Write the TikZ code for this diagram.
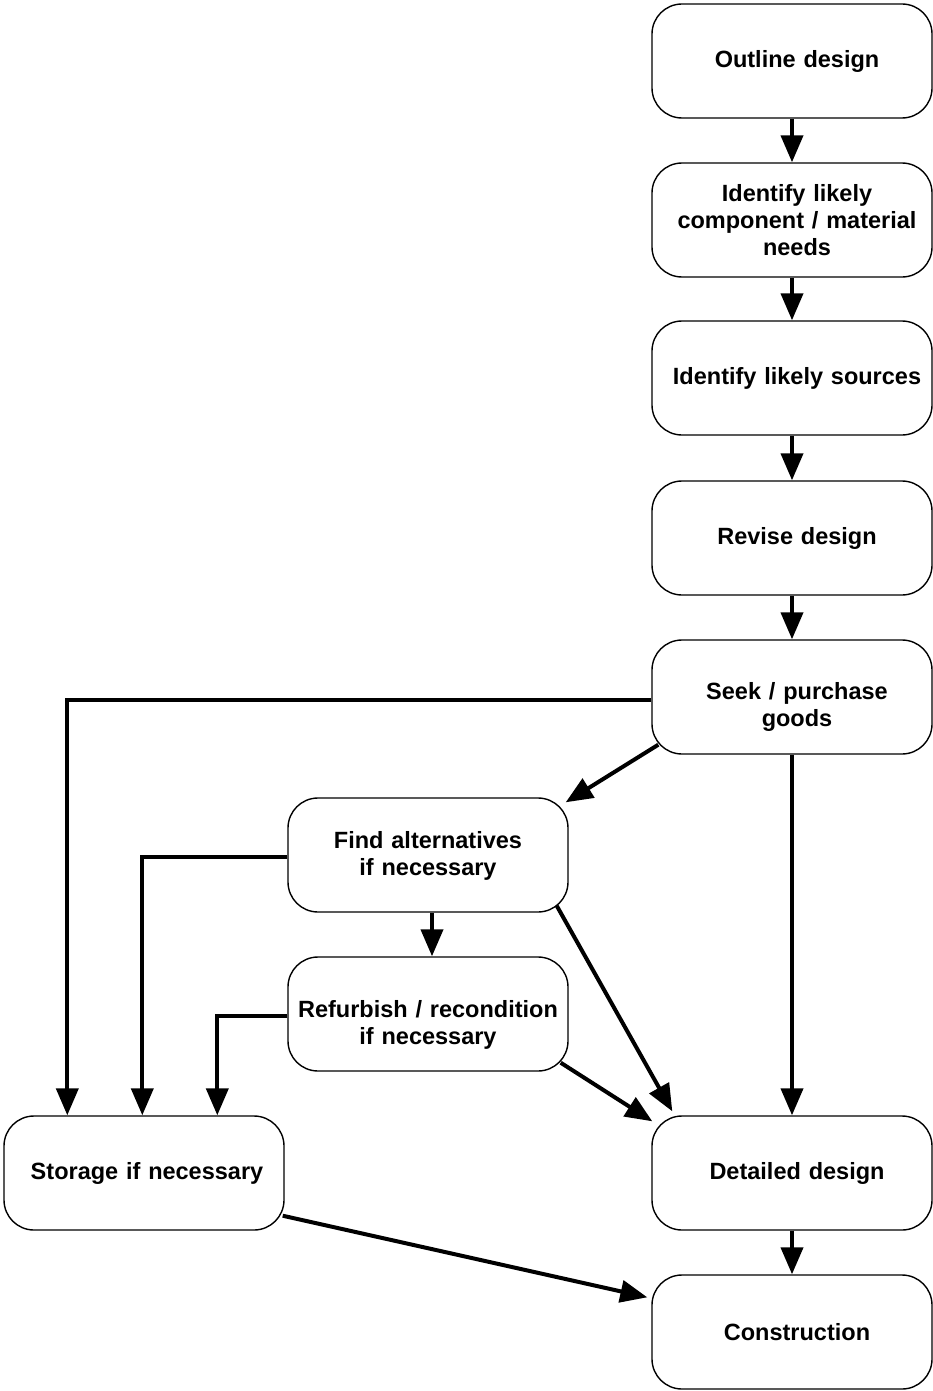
\documentclass[tikz,border=0pt]{standalone}
\usepackage{fontspec}
\setmainfont{Liberation Sans}
\usetikzlibrary{arrows.meta,calc}
\newcommand{\lowered}[2]{\raisebox{-#1}[\height][\depth]{\begin{tabular}{@{}c@{}}#2\end{tabular}}}
\begin{document}
\begin{tikzpicture}[x=1pt,y=-1pt,
  box/.style={draw=black,line width=1.4pt,rounded corners=30pt,minimum width=280pt,minimum height=114pt,
    align=center,text width=272pt,inner sep=0pt,font=\bfseries\fontsize{23.5}{27}\selectfont},
  arr/.style={line width=4pt,-{Triangle[length=27pt,width=22pt]}}]
\useasboundingbox (0,0) rectangle (933,1391);
\node[box] (outline) at (792,61) {\hspace*{10pt}Outline design};
\node[box] (identify) at (792,220) {\hspace*{10pt}Identify likely\\\hspace*{10pt}component / material\\\hspace*{10pt}needs};
\node[box] (sources) at (792,378) {\hspace*{10pt}Identify likely sources};
\node[box] (revise) at (792,538) {\hspace*{10pt}Revise design};
\node[box] (seek) at (792,697) {\hspace*{10pt}\lowered{11pt}{Seek / purchase\\goods}};
\node[box] (find) at (428,855) {\lowered{2pt}{Find alternatives\\if necessary}};
\node[box] (refurb) at (428,1014) {\lowered{12pt}{Refurbish / recondition\\if necessary}};
\node[box] (storage) at (144,1173) {\hspace*{6pt}Storage if necessary};
\node[box] (detailed) at (792,1173) {\hspace*{10pt}Detailed design};
\node[box] (constr) at (792,1332) {\hspace*{10pt}Construction};

\draw[arr] (outline) -- (identify);
\draw[arr] (identify) -- (sources);
\draw[arr] (sources) -- (revise);
\draw[arr] (revise) -- (seek);
\draw[arr] (seek) -- (detailed);
\draw[arr] (detailed) -- (constr);
\draw[arr] ([yshift=-3pt]seek.west) -| ([xshift=64]storage.north west);
\draw[arr] ([shift={(7,-10)}]seek.south west) -- ([shift={(-3,5)}]find.north east);
\draw[arr] ([yshift=-2pt]find.west) -| ([xshift=139]storage.north west);
\draw[arr] ([xshift=4]find.south) -- ([xshift=4]refurb.north);
\draw[arr] ([shift={(-12,-7)}]find.south east) -- ([shift={(21,-4)}]detailed.north west);
\draw[arr] ([yshift=-2pt]refurb.west) -| ([xshift=214]storage.north west);
\draw[arr] ([shift={(-8,-9)}]refurb.south east) -- ([shift={(1,6)}]detailed.north west);
\draw[arr] ([shift={(-2,-15)}]storage.south east) -- ([shift={(-4,23)}]constr.north west);
\end{tikzpicture}
\end{document}
